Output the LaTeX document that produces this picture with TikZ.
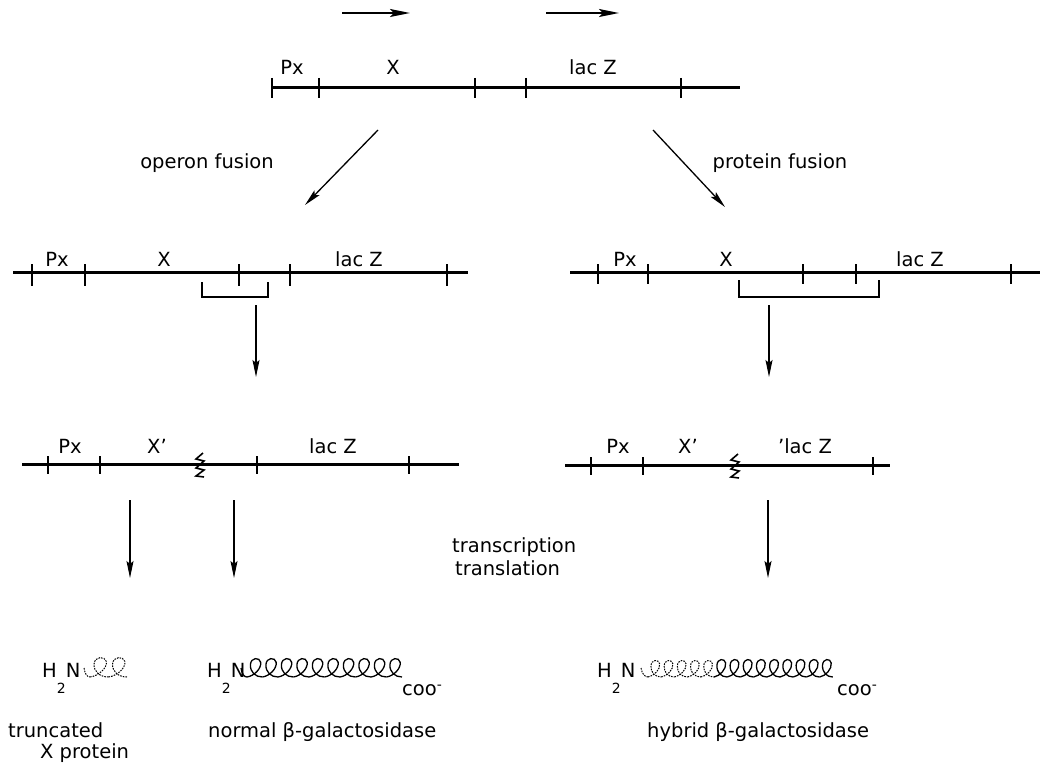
\documentclass[tikz,border=0pt]{standalone}
\usepackage{fontspec}
\setmainfont{DejaVu Sans}
\usetikzlibrary{arrows.meta,calc}

\tikzset{
  lbl/.style={font=\fontsize{19.5}{22}\selectfont, inner sep=0pt},
  gene/.style={line width=3pt},
  tickmark/.style={line width=1.8pt},
  bracket/.style={line width=2pt},
  arr/.style={line width=1.3pt, -{Stealth[length=17pt,width=7pt,inset=3pt]}},
  toparr/.style={line width=2pt, -{Stealth[length=20pt,width=8pt,inset=4pt]}},
  cut/.style={line width=1.6pt, line join=miter},
  coilline/.style={line width=1.3pt},
  dashcoil/.style={line width=1pt, dash pattern=on 1.6pt off 1.1pt},
  % one turn of the helix drawn as a cursive loop, base at (0,0), width 1, height 1
  eloop/.pic={
    \draw[pic actions] (0,0) .. controls (0.45,-0.05) and (0.95,-0.45) .. (0.88,-0.78)
      .. controls (0.82,-1.05) and (0.25,-1.05) .. (0.22,-0.65)
      .. controls (0.2,-0.25) and (0.55,0) .. (1,0);
  },
}

\newcommand{\htwon}{H\raisebox{-16pt}{\fontsize{14}{14}\selectfont 2}N}
\newcommand{\coo}{coo\raisebox{6pt}{\fontsize{14}{14}\selectfont -}}

\begin{document}
\begin{tikzpicture}[x=1pt, y=-1pt]
\useasboundingbox (0,0) rectangle (1040,765);

% direction of transcription above the original gene pair
\coordinate (t1s) at (342,13); \coordinate (t1e) at (410,13);
\coordinate (t2s) at (546,13); \coordinate (t2e) at (619,13);
\draw[toparr] (t1s) -- (t1e);
\draw[toparr] (t2s) -- (t2e);

% original chromosome: Px - X - lacZ
\coordinate (g0l) at (272,88); \coordinate (g0r) at (740,88);
\draw[gene] (g0l) -- (g0r);
\foreach \x in {272,319,475,526,681} \draw[tickmark] (\x,78) -- (\x,98);
\node[lbl, anchor=base] (g0px) at (292,75) {Px};
\node[lbl, anchor=base] (g0x)  at (393,75) {X};
\node[lbl, anchor=base] (g0z)  at (593,75) {lac Z};

% the two fusion routes
\coordinate (opS) at (378,130); \coordinate (opE) at (305,205);
\coordinate (prS) at (653,130); \coordinate (prE) at (725,207);
\draw[arr] (opS) -- (opE);
\draw[arr] (prS) -- (prE);
\node[lbl] (oplbl) at (207,163) {operon fusion};
\node[lbl] (prlbl) at (780,163) {protein fusion};

% operon fusion: deletion bracket within the gap
\coordinate (g1l) at (13,272); \coordinate (g1r) at (468,272);
\draw[gene] (g1l) -- (g1r);
\foreach \x in {32,85,239,290,447} \draw[tickmark] (\x,264) -- (\x,286);
\node[lbl, anchor=base] (g1px) at (57,266) {Px};
\node[lbl, anchor=base] (g1x)  at (164,266) {X};
\node[lbl, anchor=base] (g1z)  at (359,266) {lac Z};
\draw[bracket] (202,282) -- (202,297) -- (268,297) -- (268,282);

% protein fusion: deletion bracket spanning into lacZ
\coordinate (g2l) at (570,272); \coordinate (g2r) at (1040,272);
\draw[gene] (g2l) -- (g2r);
\foreach \x in {598,648,803,856,1011} \draw[tickmark] (\x,264) -- (\x,284);
\node[lbl, anchor=base] (g2px) at (625,266) {Px};
\node[lbl, anchor=base] (g2x)  at (726,266) {X};
\node[lbl, anchor=base] (g2z)  at (920,266) {lac Z};
\draw[bracket] (739,280) -- (739,297) -- (879,297) -- (879,280);

% deletion steps
\coordinate (d1s) at (256,305); \coordinate (d1e) at (256,377);
\coordinate (d2s) at (769,305); \coordinate (d2e) at (769,377);
\draw[arr] (d1s) -- (d1e);
\draw[arr] (d2s) -- (d2e);

% resulting operon fusion
\coordinate (g3l) at (22,464); \coordinate (g3r) at (459,464);
\draw[gene] (g3l) -- (g3r);
\foreach \x in {48,100,257,409} \draw[tickmark] (\x,456) -- (\x,474);
\draw[cut] (203,453) -- (196,459) -- (204,461) -- (196,468) -- (204,470) -- (196,476) -- (204,477);
\node[lbl, anchor=base] (g3px) at (70,453) {Px};
\node[lbl, anchor=base] (g3x)  at (157,453) {X'};
\node[lbl, anchor=base] (g3z)  at (333,453) {lac Z};

% resulting protein fusion
\coordinate (g4l) at (565,465); \coordinate (g4r) at (890,465);
\draw[gene] (g4l) -- (g4r);
\foreach \x in {591,643,873} \draw[tickmark] (\x,457) -- (\x,475);
\draw[cut] (738,454) -- (731,460) -- (739,462) -- (731,469) -- (739,471) -- (731,477) -- (739,478);
\node[lbl, anchor=base] (g4px) at (618,453) {Px};
\node[lbl, anchor=base] (g4x)  at (688,453) {X'};
\node[lbl, anchor=base] (g4z)  at (805,453) {'lac Z};

% expression
\coordinate (e1s) at (130,500); \coordinate (e1e) at (130,578);
\coordinate (e2s) at (234,500); \coordinate (e2e) at (234,578);
\coordinate (e3s) at (768,500); \coordinate (e3e) at (768,578);
\draw[arr] (e1s) -- (e1e);
\draw[arr] (e2s) -- (e2e);
\draw[arr] (e3s) -- (e3e);
\node[lbl, anchor=base west] (tc) at (452,552) {transcription};
\node[lbl, anchor=base west] (tl) at (455,575) {translation};

% truncated X protein
\node[lbl, anchor=base west] (p1) at (42,677) {\htwon};
\coordinate (h1s) at (90,677);
\draw[dashcoil] (84,668) .. controls (85,674) and (87,677) .. (h1s);
\foreach \i in {0,1}
  \pic[dashcoil, xscale=18.5, yscale=20] at ($(h1s)+(\i*18.5,0)$) {eloop};
\node[lbl, anchor=base west] (p1a) at (8,737) {truncated};
\node[lbl, anchor=base west] (p1b) at (40,758) {X protein};

% normal beta-galactosidase
\node[lbl, anchor=base west] (p2) at (207,677) {\htwon};
\coordinate (h2s) at (247,677);
\draw[coilline] (241,668) .. controls (242,674) and (244,677) .. (h2s);
\foreach \i in {0,...,9}
  \pic[coilline, xscale=15.5, yscale=19] at ($(h2s)+(\i*15.5,0)$) {eloop};
\node[lbl, anchor=base west] (c2) at (402,695) {\coo};
\node[lbl, anchor=base west] (p2a) at (208,737) {normal β-galactosidase};

% hybrid beta-galactosidase: X' part dashed, lacZ part solid
\node[lbl, anchor=base west] (p3) at (597,677) {\htwon};
\coordinate (h3s) at (648,677);
\draw[dashcoil] (641,668) .. controls (642,674) and (645,677) .. (h3s);
\foreach \i in {0,...,4}
  \pic[dashcoil, xscale=13.2, yscale=17] at ($(h3s)+(\i*13.2,0)$) {eloop};
\foreach \i in {5,...,13}
  \pic[coilline, xscale=13.2, yscale=18] at ($(h3s)+(\i*13.2,0)$) {eloop};
\node[lbl, anchor=base west] (c3) at (837,695) {\coo};
\node[lbl, anchor=base west] (p3a) at (647,737) {hybrid β-galactosidase};
\end{tikzpicture}
\end{document}
